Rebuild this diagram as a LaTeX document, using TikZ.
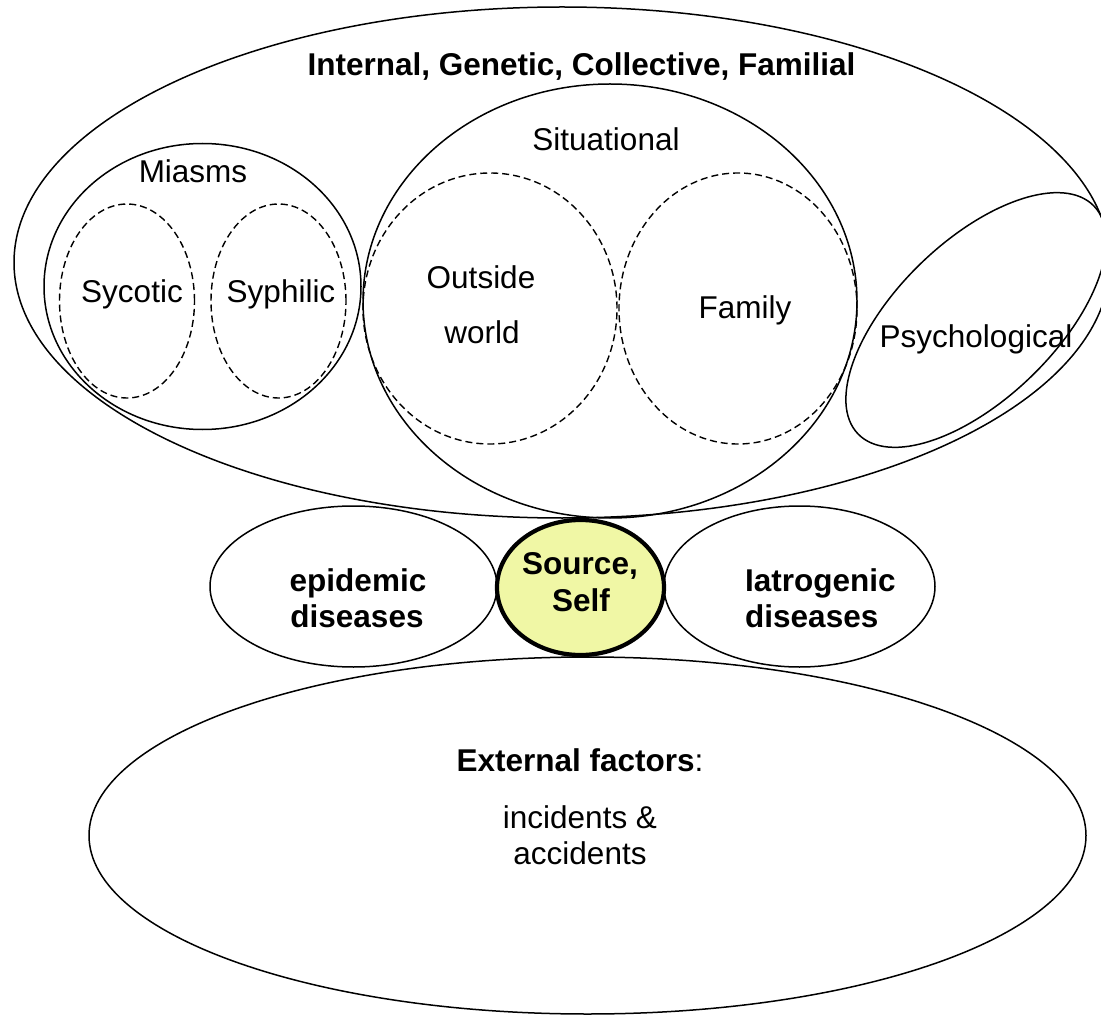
\documentclass[tikz,border=0pt]{standalone}
\usepackage{fontspec}
\setmainfont{Liberation Sans}
\usetikzlibrary{shapes.geometric}
\definecolor{srcfill}{RGB}{240,247,165}
\begin{document}
\begin{tikzpicture}[x=1pt,y=-1pt,
  shapeline/.style={draw, ellipse, inner sep=0pt, line width=1.5pt},
  dashline/.style={shapeline, line width=1.4pt, dash pattern=on 7pt off 4pt},
  lbl/.style={anchor=base, inner sep=0pt, font=\fontsize{31.5}{36}\selectfont},
  blbl/.style={lbl, font=\fontsize{31.5}{36}\selectfont\bfseries},
  srcstyle/.style={shapeline, line width=4.2pt, fill=srcfill},
]
\useasboundingbox (0,0) rectangle (1101,1016);
\clip (0,0) rectangle (1101,1016);
% shapes
\node[shapeline, minimum width=1096pt, minimum height=511pt] (big) at (562,262.5) {};
\node[shapeline, minimum width=317pt, minimum height=286pt] (miasms) at (202.5,286.5) {};
\node[dashline, minimum width=135pt, minimum height=194pt] (sycotic) at (127,301) {};
\node[dashline, minimum width=135pt, minimum height=194pt] (syphilic) at (278.5,301) {};
\node[shapeline, minimum width=494pt, minimum height=434pt] (situational) at (610,301) {};
\node[dashline, minimum width=254pt, minimum height=271pt] (outside) at (490,308.5) {};
\node[dashline, minimum width=238pt, minimum height=271pt] (family) at (738,308.5) {};
\node[shapeline, minimum width=328pt, minimum height=158pt, rotate=44] (psych) at (976,320) {};
\node[shapeline, minimum width=287pt, minimum height=161pt] (epidemic) at (353.5,586.5) {};
\node[shapeline, minimum width=271pt, minimum height=161pt] (iatro) at (799.5,586.5) {};
\node[shapeline, minimum width=997pt, minimum height=357pt] (external) at (587.5,835.5) {};
\node[srcstyle, minimum width=167pt, minimum height=135pt] (source) at (580.5,587.5) {};
% labels
\node[blbl] (tTitle) at (581.5,76) {Internal, Genetic, Collective, Familial};
\node[lbl] (tSit) at (606,151) {Situational};
\node[lbl] (tMia) at (193,183) {Miasms};
\node[lbl] (tSyc) at (132,303) {Sycotic};
\node[lbl] (tSyp) at (281,303) {Syphilic};
\node[lbl] (tOut) at (481,289) {Outside};
\node[lbl] (tWorld) at (482,344) {world};
\node[lbl] (tFam) at (745,319) {Family};
\node[lbl] (tPsy) at (976,348) {Psychological};
\node[blbl] (tEpiA) at (358,591) {epidemic};
\node[blbl] (tEpiB) at (357,627) {diseases};
\node[blbl] (tSrcA) at (580,574) {Source,};
\node[blbl] (tSrcB) at (581,611) {Self};
\node[blbl, anchor=base west] (tIatA) at (745,591) {Iatrogenic};
\node[blbl, anchor=base west] (tIatB) at (745,627) {diseases};
\node[lbl] (tExt) at (580,771) {\textbf{External factors}:};
\node[lbl] (tInc) at (580,828) {incidents \&};
\node[lbl] (tAcc) at (580,864) {accidents};
\end{tikzpicture}
\end{document}
